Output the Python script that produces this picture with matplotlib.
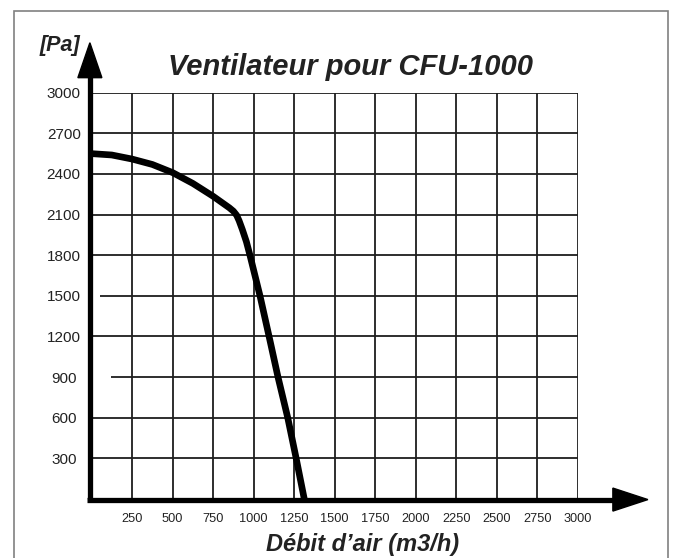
import matplotlib
matplotlib.use("Agg")
import matplotlib.pyplot as plt
from matplotlib.patches import Rectangle

# courbe du ventilateur
debit = [0, 125, 250, 375, 500, 625, 750, 850, 875, 895, 910, 930, 955, 977,
         1039, 1095, 1150, 1210, 1262, 1312]
pression = [2550, 2540, 2510, 2470, 2410, 2330, 2235, 2150, 2125, 2095, 2055,
             1990, 1900, 1800, 1500, 1200, 900, 600, 300, 0]

x_ticks = [250, 500, 750, 1000, 1250, 1500, 1750, 2000, 2250, 2500, 2750, 3000]
y_ticks = [300, 600, 900, 1200, 1500, 1800, 2100, 2400, 2700, 3000]
# debut des lignes horizontales (certaines commencent un peu plus loin)
h_start = [0, 0, 120, 0, 55, 0, 0, 0, 0, 0]

title = "Ventilateur pour CFU-1000"
x_label = "Débit d’air (m3/h)"
y_label = "[Pa]"

W, H = 673, 558
fig = plt.figure(figsize=(W / 100, H / 100), dpi=100)
plt.rcParams['font.family'] = ['Liberation Sans', 'DejaVu Sans']

x0, x1 = 91.5, 578.0
y0, y1 = 498.9, 92.7
ax = fig.add_axes([x0 / W, (H - y0) / H, (x1 - x0) / W, (y0 - y1) / H])
ax.set_xlim(0, 3000)
ax.set_ylim(0, 3000)
for s in ax.spines.values():
    s.set_visible(False)

grid_col = "#1e1e1e"
ax.vlines(x_ticks, 0, 3000, color=grid_col, lw=1.3, zorder=1)
ax.hlines(y_ticks, h_start, 3000, color=grid_col, lw=1.3, zorder=1)

# axes avec fleches
ax.plot([-10, -10], [0, 3120], color="black", lw=3.8, clip_on=False,
        solid_capstyle="butt", zorder=3)
ax.plot([-25, 3220], [-5, -5], color="black", lw=3.8, clip_on=False,
        solid_capstyle="butt", zorder=3)
ax.fill([-84, 64, -10], [3111, 3111, 3369], color="black", clip_on=False, zorder=3)
ax.fill([3215, 3215, 3431], [-90, 80, -5], color="black", clip_on=False, zorder=3)

ax.plot(debit, pression, color="black", lw=4.8, solid_joinstyle="round",
        solid_capstyle="butt", zorder=4, clip_on=False)

ax.set_xticks(x_ticks)
ax.set_xticklabels([str(v) for v in x_ticks], fontsize=9.2, color="#222222")
ax.set_yticks(y_ticks)
ax.set_yticklabels([str(v) for v in y_ticks], fontsize=11, color="#222222",
                   ha="center")
ax.tick_params(axis="x", length=0, pad=10)
ax.tick_params(axis="y", length=0, pad=20)

fig.text(350 / W, 1 - 67 / H, title, fontsize=21, fontweight="bold",
         fontstyle="italic", color="#222222", ha="center", va="center")
fig.text(60 / W, 1 - 45 / H, y_label, fontsize=15.5, fontweight="bold",
         fontstyle="italic", color="#222222", ha="center", va="center")
fig.text(363 / W, 1 - 545 / H, x_label, fontsize=17, fontweight="bold",
         fontstyle="italic", color="#222222", ha="center", va="center")

fig.patches.append(Rectangle((14 / W, -0.02), (668 - 14) / W, 1 - 11 / H + 0.02,
                             transform=fig.transFigure, fill=False,
                             edgecolor="#808080", lw=1.2))

fig.savefig("out.png", dpi=100)
